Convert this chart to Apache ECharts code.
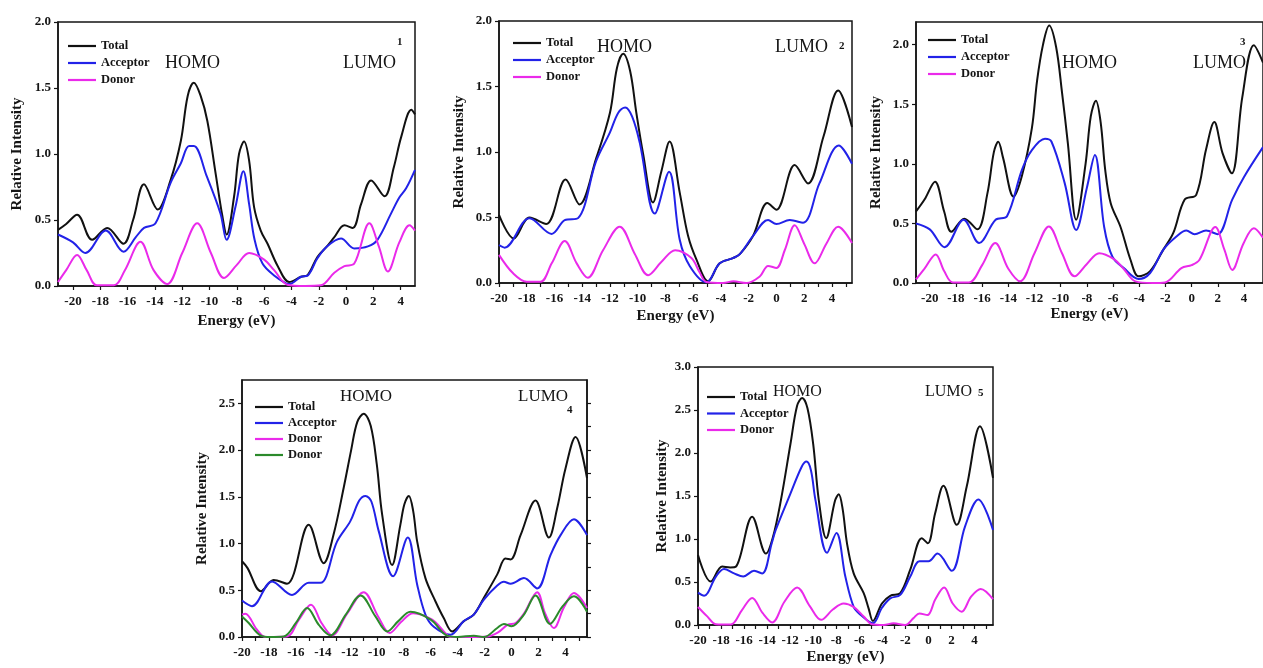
<!DOCTYPE html>
<html>
<head>
<meta charset="utf-8">
<title>Density of states</title>
<script src="https://cdn.jsdelivr.net/npm/echarts@6/dist/echarts.min.js"></script>
<style>
html, body { margin: 0; padding: 0; background: #fff; }
#chart { width: 1263px; height: 668px; }
</style>
</head>
<body>
<div id="chart"></div>
<script>
/*==========================================
 * data: [energy (eV), relative intensity]
 */
var p1Total = [[-21.1,0.425],[-20.5,0.47],[-19.7,0.54],[-18.6,0.35],[-17.5,0.44],[-16.3,0.32],[-15.6,0.5],[-14.8,0.77],[-13.8,0.58],[-12.86,0.8],[-12.1,1.1],[-11.6,1.44],[-11.15,1.54],[-10.65,1.44],[-10.16,1.25],[-9.55,0.85],[-9.06,0.53],[-8.75,0.39],[-8.2,0.68],[-7.84,1.0],[-7.47,1.095],[-7.1,0.95],[-6.74,0.6],[-6.25,0.42],[-5.75,0.32],[-5.0,0.15],[-4.16,0.03],[-3.3,0.07],[-2.8,0.085],[-2.1,0.22],[-1.4,0.3],[-0.86,0.37],[-0.12,0.46],[0.49,0.44],[1.1,0.62],[1.84,0.8],[2.82,0.68],[3.5,0.9],[4.04,1.13],[4.78,1.335],[5.05,1.3]];
var p1Acc = [[-21.1,0.39],[-20,0.33],[-19.1,0.25],[-17.6,0.42],[-16.3,0.26],[-15.4,0.37],[-14.8,0.44],[-13.96,0.475],[-12.86,0.78],[-12.1,0.93],[-11.5,1.06],[-11.15,1.06],[-10.2,0.83],[-9.2,0.55],[-8.75,0.35],[-8.1,0.6],[-7.52,0.87],[-7.1,0.62],[-6.7,0.35],[-6.12,0.17],[-5.27,0.08],[-4.4,0.02],[-4.16,0.015],[-3.3,0.07],[-2.8,0.08],[-2.1,0.21],[-1.4,0.3],[-0.37,0.36],[0.6,0.285],[1.6,0.3],[2.3,0.35],[3.3,0.55],[3.9,0.67],[4.4,0.74],[5.05,0.88]];
var p1Don = [[-21.1,0.03],[-20.5,0.12],[-19.7,0.235],[-19.0,0.12],[-18.25,0.005],[-17,0.005],[-16.2,0.12],[-15.06,0.335],[-14.1,0.12],[-13.1,0.015],[-12.0,0.25],[-10.9,0.475],[-9.9,0.25],[-8.94,0.06],[-8.0,0.16],[-7.1,0.25],[-6.0,0.2],[-5.27,0.12],[-4.3,0.01],[-3,0],[-1.84,0.005],[-0.86,0.1],[-0.12,0.15],[0.6,0.17],[1.71,0.475],[2.4,0.3],[3.06,0.11],[3.9,0.33],[4.65,0.46],[5.05,0.42]];

var p2Total = [[-20,0.52],[-18.94,0.34],[-17.8,0.5],[-16.6,0.45],[-15.2,0.79],[-14.2,0.6],[-13,0.95],[-12,1.3],[-11.5,1.64],[-11.05,1.75],[-10.55,1.62],[-10.1,1.3],[-9.6,0.98],[-8.9,0.615],[-8.3,0.85],[-7.7,1.08],[-6.97,0.69],[-6.37,0.36],[-5.77,0.18],[-4.93,0.013],[-4.09,0.15],[-3.13,0.19],[-2.64,0.22],[-1.68,0.36],[-0.65,0.61],[0,0.56],[1.32,0.9],[2.28,0.76],[3.4,1.12],[4.45,1.47],[5.45,1.19]];
var p2Acc = [[-20,0.29],[-19.6,0.27],[-17.8,0.495],[-16.2,0.375],[-15.26,0.48],[-14.3,0.495],[-13,0.93],[-12,1.15],[-11.4,1.3],[-10.9,1.34],[-10.4,1.27],[-9.85,1.07],[-8.77,0.53],[-7.74,0.85],[-6.97,0.33],[-6.25,0.13],[-5.05,0.005],[-4.09,0.15],[-3.13,0.19],[-2.64,0.22],[-1.68,0.36],[-0.6,0.48],[0,0.45],[0.96,0.48],[1.92,0.46],[3.1,0.76],[4.5,1.05],[5.45,0.91]];
var p2Don = [[-20,0.215],[-19,0.076],[-18,0.01],[-17,0.01],[-16.2,0.15],[-15.26,0.32],[-14.4,0.15],[-13.6,0.04],[-12.5,0.25],[-11.3,0.43],[-10.2,0.22],[-9.25,0.06],[-8.3,0.16],[-7.3,0.25],[-6.13,0.19],[-5.53,0.08],[-5.05,0.008],[-3.85,0],[-3.1,0.013],[-2.16,0],[-1.2,0.05],[-0.6,0.13],[0,0.115],[0.6,0.25],[1.32,0.44],[2.0,0.3],[2.76,0.15],[3.6,0.3],[4.45,0.43],[5.45,0.305]];

var p3Total = [[-21.05,0.6],[-20.4,0.7],[-19.6,0.85],[-18.9,0.6],[-18.35,0.43],[-17.36,0.54],[-16.36,0.45],[-15.6,0.75],[-15.1,1.1],[-14.77,1.185],[-14.4,1.05],[-13.6,0.725],[-12.96,0.9],[-12.2,1.3],[-11.8,1.7],[-11.35,2.0],[-10.88,2.16],[-10.35,1.98],[-9.9,1.6],[-9.45,1.17],[-8.82,0.53],[-8.1,1.0],[-7.7,1.4],[-7.31,1.53],[-6.95,1.35],[-6.6,0.95],[-6.18,0.67],[-5.43,0.47],[-4.67,0.195],[-4.05,0.056],[-3.17,0.1],[-2.16,0.28],[-1.4,0.42],[-0.53,0.7],[0.35,0.74],[1.1,1.12],[1.73,1.35],[2.36,1.09],[3.07,0.92],[3.87,1.56],[4.75,1.995],[5.45,1.85]];
var p3Acc = [[-21.05,0.5],[-20,0.45],[-18.87,0.3],[-17.41,0.53],[-16.23,0.335],[-14.97,0.53],[-14.1,0.56],[-12.96,0.95],[-12.2,1.115],[-11.2,1.21],[-10.7,1.185],[-9.7,0.84],[-8.82,0.445],[-8.0,0.8],[-7.39,1.075],[-6.68,0.47],[-6.05,0.22],[-5.18,0.125],[-4.05,0.033],[-3.17,0.084],[-2.16,0.28],[-1.16,0.39],[-0.4,0.44],[0.23,0.41],[1.1,0.44],[1.98,0.41],[3.1,0.7],[4,0.89],[5.45,1.14]];
var p3Don = [[-21.05,0.03],[-20.4,0.12],[-19.55,0.24],[-18.9,0.1],[-18.24,0.005],[-17,0.005],[-16,0.15],[-15.0,0.335],[-14.0,0.12],[-13.1,0.014],[-12.0,0.25],[-10.9,0.475],[-9.9,0.25],[-8.94,0.056],[-8.0,0.16],[-7.06,0.25],[-5.93,0.2],[-5.18,0.117],[-4.3,0.014],[-3,0],[-2.03,0.005],[-0.78,0.125],[0,0.15],[0.6,0.195],[1.81,0.47],[2.5,0.28],[3.1,0.11],[3.95,0.33],[4.75,0.46],[5.45,0.38]];

var p4Total = [[-20,0.81],[-19.6,0.74],[-18.6,0.49],[-17.65,0.61],[-16.66,0.57],[-15.05,1.2],[-13.94,0.79],[-13.2,1.1],[-12.45,1.6],[-11.9,2.0],[-11.45,2.3],[-10.97,2.39],[-10.45,2.26],[-10.0,1.85],[-9.6,1.31],[-8.86,0.77],[-8.25,1.2],[-7.95,1.42],[-7.62,1.51],[-7.3,1.35],[-7.0,1.02],[-6.39,0.63],[-5.64,0.38],[-5.02,0.2],[-4.4,0.06],[-3.54,0.17],[-2.8,0.24],[-2.05,0.42],[-1.06,0.67],[-0.45,0.84],[-0.07,0.83],[0.67,1.09],[1.78,1.46],[2.77,1.065],[3.39,1.38],[4.0,1.8],[4.75,2.14],[5.6,1.7]];
var p4Acc = [[-20,0.39],[-19.26,0.33],[-17.77,0.595],[-16.29,0.45],[-15.05,0.58],[-14.18,0.58],[-12.95,1.02],[-11.96,1.24],[-11.3,1.46],[-10.84,1.51],[-10.4,1.45],[-9.85,1.13],[-8.79,0.65],[-7.7,1.065],[-7.0,0.56],[-6.39,0.24],[-5.77,0.11],[-4.53,0.025],[-3.54,0.17],[-2.8,0.24],[-2.05,0.4],[-1.06,0.55],[-0.57,0.59],[-0.07,0.57],[0.92,0.63],[1.9,0.52],[2.9,0.88],[3.64,1.09],[4.63,1.26],[5.6,1.09]];
var p4Don = [[-20,0.24],[-19.75,0.25],[-18.9,0.08],[-18.27,0],[-16.66,0.005],[-15.8,0.18],[-14.88,0.345],[-14.1,0.15],[-13.32,0.018],[-12.2,0.25],[-10.97,0.48],[-9.9,0.22],[-9.03,0.043],[-8.2,0.16],[-7.3,0.255],[-5.89,0.185],[-5.02,0.06],[-4.53,0],[-3,0],[-1.81,0.005],[-1.0,0.05],[-0.3,0.13],[0.3,0.15],[0.92,0.25],[1.9,0.48],[2.5,0.25],[3.14,0.096],[3.9,0.32],[4.63,0.47],[5.6,0.31]];
var p4Don2 = [[-20,0.22],[-19.5,0.15],[-18.64,0.018],[-17.9,0],[-16.9,0.005],[-16.0,0.15],[-15.17,0.31],[-14.3,0.13],[-13.44,0.018],[-12.3,0.24],[-11.2,0.445],[-10.1,0.22],[-9.23,0.06],[-8.4,0.17],[-7.5,0.27],[-6.0,0.185],[-4.78,0.014],[-4,0],[-2.8,0.014],[-2.05,0],[-1.06,0.096],[-0.57,0.14],[0,0.114],[0.92,0.24],[1.78,0.445],[2.85,0.14],[3.8,0.33],[4.63,0.435],[5.6,0.27]];

var p5Total = [[-20,0.815],[-18.9,0.505],[-17.9,0.68],[-17.2,0.67],[-16.7,0.68],[-15.3,1.26],[-14.1,0.83],[-13.5,1.02],[-12.8,1.455],[-11.97,2.11],[-11.4,2.55],[-10.96,2.64],[-10.5,2.52],[-10.0,2.1],[-9.52,1.455],[-8.88,1.01],[-8.1,1.45],[-7.79,1.52],[-7.45,1.35],[-7.07,0.95],[-6.49,0.6],[-5.62,0.37],[-5.19,0.19],[-4.82,0.047],[-4.04,0.25],[-3.32,0.34],[-2.45,0.37],[-1.59,0.64],[-0.58,1.01],[-0.06,0.95],[0.58,1.3],[1.3,1.62],[2.45,1.165],[3.32,1.61],[4.47,2.31],[5.6,1.71]];
var p5Acc = [[-20,0.376],[-19.47,0.34],[-18.46,0.56],[-17.74,0.65],[-16.87,0.6],[-16.07,0.565],[-15.14,0.63],[-14.42,0.6],[-13.6,0.95],[-13.27,1.1],[-11.97,1.53],[-11.0,1.84],[-10.59,1.9],[-10.2,1.8],[-9.81,1.455],[-8.8,0.84],[-7.99,1.07],[-7.21,0.56],[-6.49,0.21],[-5.9,0.12],[-4.82,0.02],[-4.04,0.2],[-3.32,0.31],[-2.45,0.35],[-1.59,0.56],[-0.78,0.74],[0,0.74],[0.78,0.83],[2.02,0.63],[3.17,1.145],[4.33,1.46],[5.6,1.105]];
var p5Don = [[-20,0.21],[-19.2,0.1],[-18.46,0.01],[-17.16,0.005],[-16.2,0.17],[-15.3,0.315],[-14.4,0.14],[-13.56,0.03],[-12.5,0.27],[-11.4,0.435],[-10.3,0.22],[-9.32,0.06],[-8.3,0.18],[-7.36,0.25],[-6.5,0.21],[-5.62,0.1],[-4.9,0.008],[-3.9,0],[-3.03,0.02],[-2.02,0],[-1.3,0.08],[-0.78,0.135],[-0.09,0.115],[0.6,0.3],[1.36,0.435],[2.1,0.25],[2.88,0.155],[3.7,0.33],[4.53,0.42],[5.6,0.3]];

// tick labels
var xLabelsEven = [-20, -18, -16, -14, -12, -10, -8, -6, -4, -2, 0, 2, 4];
var xTicksUnit = [-20, -19, -18, -17, -16, -15, -14, -13, -12, -11, -10, -9, -8, -7, -6, -5, -4, -3, -2, -1, 0, 1, 2, 3, 4, 5];
var yLabels20 = [0, 0.5, 1.0, 1.5, 2.0];
var yLabels25 = [0, 0.5, 1.0, 1.5, 2.0, 2.5];
var yLabels30 = [0, 0.5, 1.0, 1.5, 2.0, 2.5, 3.0];
var yTicksQuarter = [0, 0.25, 0.5, 0.75, 1.0, 1.25, 1.5, 1.75, 2.0, 2.25, 2.5];

var seriesNames = ['Total', 'Acceptor', 'Donor'];

var SERIF = '"Liberation Serif", "Times New Roman", serif';
var INK = '#151515';
var COL_TOTAL = '#111111';
var COL_ACC = '#2222e8';
var COL_DON = '#ea2aea';
var COL_DON2 = '#2b8a2b';

/*==========================================
 * panel layout
 */
var panels = [
    { box: [58, 22, 357, 264], x: [-21.1, 5.05], yMax: 2.0, xTicks: xLabelsEven, yLab: yLabels20, xName: 28, yName: 33,
      legend: [68, 39, 3], lines: [[p1Total, COL_TOTAL], [p1Acc, COL_ACC], [p1Don, COL_DON]] },
    { box: [499, 21, 353, 262], x: [-20, 5.45], yMax: 2.0, xTicks: xTicksUnit, yLab: yLabels20, xName: 26, yName: 32,
      legend: [513, 36, 3], lines: [[p2Total, COL_TOTAL], [p2Acc, COL_ACC], [p2Don, COL_DON]] },
    { box: [916, 22, 352, 261], x: [-21.05, 5.45], yMax: 2.19, xTicks: xLabelsEven, yLab: yLabels20, xName: 24, yName: 32,
      legend: [928, 33, 3], lines: [[p3Total, COL_TOTAL], [p3Acc, COL_ACC], [p3Don, COL_DON]] },
    { box: [242, 380, 345, 257], x: [-20, 5.6], yMax: 2.75, xTicks: xTicksUnit, yLab: yLabels25, xName: null, yName: 32,
      legend: [255, 400, 2], lines: [[p4Total, COL_TOTAL], [p4Acc, COL_ACC], [p4Don, COL_DON], [p4Don2, COL_DON2]] },
    { box: [698, 367, 295, 258], x: [-20, 5.6], yMax: 3.0, xTicks: xTicksUnit, yLab: yLabels30, xName: 25, yName: 28,
      legend: [707, 390, 2.5], lines: [[p5Total, COL_TOTAL], [p5Acc, COL_ACC], [p5Don, COL_DON]] }
];

var notes = [
    ['HOMO', 165, 63, 18], ['LUMO', 343, 63, 18],
    ['HOMO', 597, 47, 18], ['LUMO', 775, 47, 18],
    ['HOMO', 1062, 63, 18], ['LUMO', 1193, 63, 18],
    ['HOMO', 340, 397, 17], ['LUMO', 518, 397, 17],
    ['HOMO', 773, 392, 16], ['LUMO', 925, 392, 16]
];
var tags = [['1', 397, 42], ['2', 839, 46], ['3', 1240, 42], ['4', 567, 410], ['5', 978, 393]];

function buildOption() {
    var grids = [], xAxes = [], yAxes = [], series = [], legends = [], graphics = [];

    for (var i = 0; i < panels.length; i++) {
        var p = panels[i];
        grids.push({
            left: p.box[0], top: p.box[1], width: p.box[2], height: p.box[3],
            show: true, borderColor: INK, borderWidth: 1.5, backgroundColor: 'transparent'
        });
        xAxes.push({
            type: 'value', gridIndex: i, min: p.x[0], max: p.x[1],
            name: p.xName === null ? '' : 'Energy (eV)',
            nameLocation: 'middle', nameGap: p.xName === null ? 0 : p.xName,
            nameTextStyle: { fontFamily: SERIF, fontWeight: 'bold', fontSize: 15, color: INK },
            axisLine: { show: true, onZero: false, lineStyle: { color: INK, width: 1.5 } },
            axisTick: { show: true, inside: false, length: 4, customValues: p.xTicks, lineStyle: { color: INK, width: 1.2 } },
            axisLabel: { customValues: xLabelsEven, margin: 9, fontFamily: SERIF, fontWeight: 'bold', fontSize: 13, color: INK },
            splitLine: { show: false }
        });
        yAxes.push({
            type: 'value', gridIndex: i, min: 0, max: p.yMax,
            name: 'Relative Intensity', nameLocation: 'middle', nameGap: p.yName,
            nameTextStyle: { fontFamily: SERIF, fontWeight: 'bold', fontSize: 15, color: INK },
            axisLine: { show: true, onZero: false, lineStyle: { color: INK, width: 1.5 } },
            axisTick: { show: true, inside: false, length: 4, customValues: p.yLab, lineStyle: { color: INK, width: 1.2 } },
            axisLabel: {
                customValues: p.yLab, margin: 7, fontFamily: SERIF, fontWeight: 'bold', fontSize: 13, color: INK,
                formatter: function(v) { return v.toFixed(1); }
            },
            splitLine: { show: false }
        });

        var names = [];
        for (var j = 0; j < p.lines.length; j++) {
            // the second donor line of panel 4 shares its label with the first
            var nm = j < 3 ? seriesNames[j] : 'Donor ';
            names.push(nm);
            series.push({
                name: nm, type: 'line', xAxisIndex: i, yAxisIndex: i,
                data: p.lines[j][0], smooth: 0.35, symbol: 'none',
                lineStyle: { color: p.lines[j][1], width: 2 },
                itemStyle: { color: p.lines[j][1] },
                z: 2 + j
            });
        }
        legends.push({
            data: names, orient: 'vertical', left: p.legend[0], top: p.legend[1],
            icon: 'rect', itemGap: p.legend[2], itemWidth: 28, itemHeight: 2.2, padding: 0,
            selectedMode: false,
            textStyle: { fontFamily: SERIF, fontWeight: 'bold', fontSize: 12.5, color: INK, lineHeight: 14 }
        });
    }

    // right-hand ticks of panel 4
    yAxes.push({
        type: 'value', gridIndex: 3, position: 'right', min: 0, max: 2.75,
        axisLine: { show: true, onZero: false, lineStyle: { color: INK, width: 1.5 } },
        axisTick: { show: true, inside: false, length: 4, customValues: yTicksQuarter, lineStyle: { color: INK, width: 1.2 } },
        axisLabel: { show: false },
        splitLine: { show: false }
    });

    for (var k = 0; k < notes.length; k++) {
        graphics.push({
            type: 'text', x: notes[k][1], y: notes[k][2],
            style: { text: notes[k][0], fill: INK, font: notes[k][3] + 'px ' + SERIF, textAlign: 'left', textVerticalAlign: 'middle' }
        });
    }
    for (var t = 0; t < tags.length; t++) {
        graphics.push({
            type: 'text', x: tags[t][1], y: tags[t][2],
            style: { text: tags[t][0], fill: INK, font: 'bold 11px ' + SERIF, textAlign: 'left', textVerticalAlign: 'middle' }
        });
    }

    return {
        animation: false,
        backgroundColor: '#ffffff',
        grid: grids,
        xAxis: xAxes,
        yAxis: yAxes,
        legend: legends,
        series: series,
        graphic: graphics
    };
}

var myChart = echarts.init(document.getElementById('chart'), null, { renderer: 'canvas' });
myChart.setOption(buildOption());
</script>
</body>
</html>
